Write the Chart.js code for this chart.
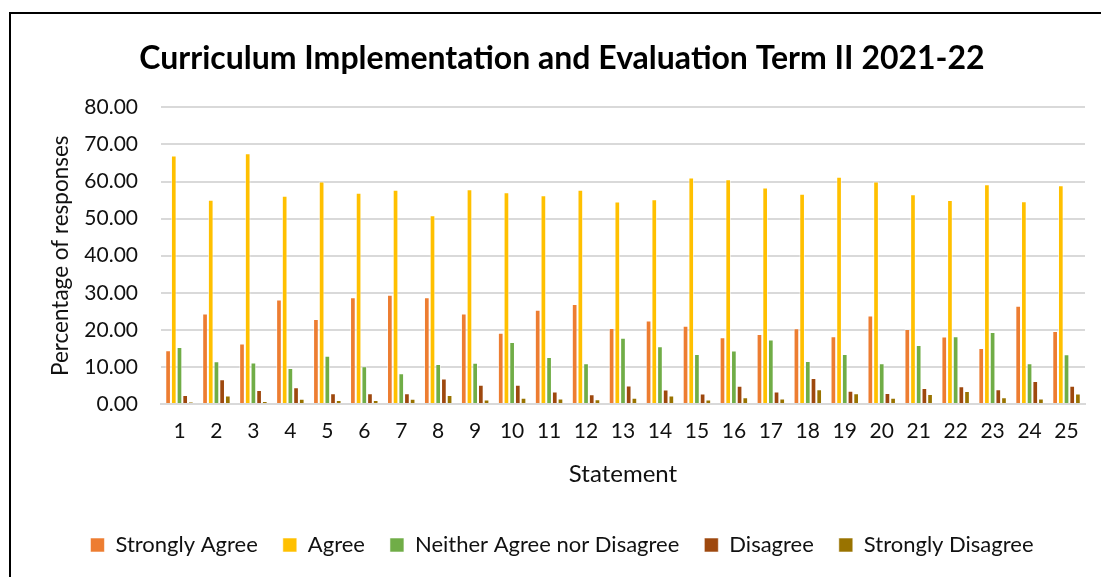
<!DOCTYPE html>
<html>
<head>
<meta charset="utf-8">
<script src="https://cdn.jsdelivr.net/npm/chart.js@4.4.1/dist/chart.umd.min.js"></script>
<style>
  html, body { margin: 0; padding: 0; background: #fff; overflow: hidden; }
  #box {
    position: absolute; left: 9px; top: 12px;
    width: 1102px; height: 590px;
    border: 2px solid #000; background: #fff;
  }
</style>
</head>
<body>
<div id="box"><canvas id="chart"></canvas></div>
<script>
'use strict';

// statements 1..25
const statements = ["1","2","3","4","5","6","7","8","9","10","11","12","13","14","15","16","17","18","19","20","21","22","23","24","25"];

const stronglyAgree = [14.5, 24.4, 16.3, 28.2, 22.9, 28.8, 29.5, 28.8, 24.4, 19.2, 25.4, 27.0, 20.5, 22.5, 21.1, 18.0, 18.9, 20.4, 18.3, 23.9, 20.2, 18.2, 15.1, 26.5, 19.7];
const agree = [67.0, 55.1, 67.6, 56.2, 60.0, 57.0, 57.8, 50.9, 57.9, 57.1, 56.3, 57.8, 54.6, 55.2, 61.1, 60.6, 58.4, 56.7, 61.3, 60.0, 56.6, 55.0, 59.3, 54.7, 59.0];
const neither = [15.4, 11.5, 11.2, 9.7, 13.0, 10.2, 8.3, 10.8, 11.1, 16.7, 12.7, 11.0, 17.9, 15.6, 13.5, 14.4, 17.4, 11.6, 13.5, 11.0, 15.9, 18.3, 19.4, 11.0, 13.4];
const disagree = [2.4, 6.7, 3.8, 4.5, 2.9, 2.9, 2.9, 6.9, 5.2, 5.2, 3.4, 2.6, 5.0, 3.9, 2.8, 4.9, 3.4, 7.0, 3.6, 3.0, 4.3, 4.8, 4.0, 6.2, 4.9];
const stronglyDisagree = [0.6, 2.3, 0.8, 1.4, 1.1, 1.1, 1.4, 2.4, 1.2, 1.7, 1.5, 1.3, 1.7, 2.3, 1.2, 1.8, 1.5, 4.0, 2.9, 1.7, 2.7, 3.5, 1.8, 1.5, 2.8];

const yTicks = [0, 10, 20, 30, 40, 50, 60, 70, 80];

const series = [
  { label: "Strongly Agree", data: stronglyAgree, color: "#ED7D31" },
  { label: "Agree", data: agree, color: "#FFC000" },
  { label: "Neither Agree nor Disagree", data: neither, color: "#70AD47" },
  { label: "Disagree", data: disagree, color: "#9E480E" },
  { label: "Strongly Disagree", data: stronglyDisagree, color: "#997300" },
];

Chart.defaults.font.family = "Lato, 'Open Sans', sans-serif";
Chart.defaults.color = "#111";

const ctx = document.getElementById("chart");
new Chart(ctx, {
  type: "bar",
  data: {
    labels: statements,
    datasets: series.map((s) => ({
      label: s.label,
      data: s.data,
      backgroundColor: s.color,
      borderColor: "rgba(255,255,255,0.55)",
      borderWidth: 1,
      barPercentage: 1,
      categoryPercentage: 0.77,
    })),
  },
  options: {
    responsive: true,
    maintainAspectRatio: false,
    animation: false,
    layout: { padding: { left: 0, right: 0, top: 0, bottom: 38 } },
    scales: {
      x: {
        grid: { display: false, drawTicks: false },
        border: { color: "#d9d9d9", width: 2 },
        ticks: { font: { size: 21 }, padding: 15, maxRotation: 0, autoSkip: false },
        title: { display: true, text: "Statement", font: { size: 24 }, padding: { top: 4, bottom: 20 } },
        afterFit: (scale) => { scale.height = 105; },
      },
      y: {
        min: 0,
        max: 80,
        afterBuildTicks: (scale) => { scale.ticks = yTicks.map((v) => ({ value: v })); },
        grid: { color: "#d9d9d9", lineWidth: 2, drawTicks: false },
        border: { display: false },
        ticks: { font: { size: 21 }, padding: 23, callback: (v) => Number(v).toFixed(2) },
        title: { display: true, text: "Percentage of responses", font: { size: 22.5 }, padding: { top: 36, bottom: 0 } },
        afterFit: (scale) => { scale.width = 150; },
      },
      // empty right margin so the title and legend stay centred on the whole box
      yRight: {
        position: "right",
        grid: { display: false, drawTicks: false },
        border: { display: false },
        ticks: { display: false },
        afterFit: (scale) => { scale.width = 28; },
      },
    },
    plugins: {
      title: {
        display: true,
        text: "Curriculum Implementation and Evaluation Term II 2021-22",
        font: { size: 32, weight: "bold" },
        color: "#000",
        padding: { top: 25, bottom: 30 },
      },
      legend: {
        position: "bottom",
        labels: { boxWidth: 14, boxHeight: 14, padding: 25, font: { size: 22 } },
      },
      tooltip: { enabled: false },
    },
  },
});
</script>
</body>
</html>
